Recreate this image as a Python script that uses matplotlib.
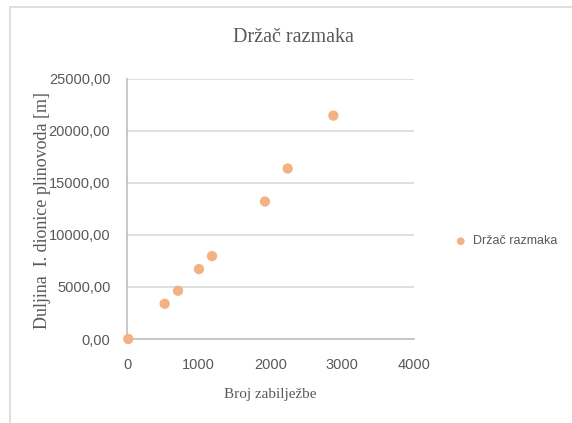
import matplotlib.pyplot as plt
from matplotlib.patches import Rectangle

# broj zabiljezbe vs duljina dionice
broj = [18, 525, 711, 1003, 1185, 1923, 2240, 2876]
duljina = [0, 3390, 4640, 6720, 7970, 13220, 16390, 21480]
x_ticks = [0, 1000, 2000, 3000, 4000]
y_ticks = [0, 5000, 10000, 15000, 20000, 25000]

serif = ['Liberation Serif', 'DejaVu Serif']
sans = ['Liberation Sans Narrow', 'Liberation Sans', 'DejaVu Sans']
tick_col = '#595959'

fig = plt.figure(figsize=(5.72, 4.23), dpi=100)
fig.patches.append(Rectangle((10 / 572, -0.1), 1.2, 1 - 7 / 423 + 0.1, transform=fig.transFigure,
                             fill=False, edgecolor='#D9D9D9', linewidth=1.2))

ax = fig.add_axes([127 / 572, 84 / 423, 287 / 572, 260 / 423])
ax.scatter(broj, duljina, s=55, color='#F4B183', edgecolors='none', label='Držač razmaka', zorder=3, clip_on=False)

ax.set_xlim(0, 4000)
ax.set_ylim(0, 25000)
ax.set_xticks(x_ticks)
ax.set_yticks(y_ticks)
ax.set_yticklabels([f'{v},00' for v in y_ticks])
ax.tick_params(length=0, pad=12, labelsize=10.5, colors=tick_col)
ax.tick_params(axis='x', pad=14)
for lab in ax.get_xticklabels() + ax.get_yticklabels():
    lab.set_family(sans)

ax.grid(axis='y', color='#D9D9D9', linewidth=1.2)
ax.set_axisbelow(True)
for s in ['top', 'right']:
    ax.spines[s].set_visible(False)
for s in ['left', 'bottom']:
    ax.spines[s].set_color('#BFBFBF')
    ax.spines[s].set_linewidth(1.2)

fig.text(293 / 572, 1 - 38 / 423, 'Držač razmaka', family=serif, fontsize=14.5, color=tick_col,
         ha='center', va='center')
fig.text(270 / 572, 1 - 394 / 423, 'Broj zabilježbe', family=serif, fontsize=11, color=tick_col,
         ha='center', va='center')
fig.text(43 / 572, 1 - 210 / 423, 'Duljina  I. dionice plinovoda [m]', family=serif, fontsize=13,
         color=tick_col, ha='center', va='center', rotation=90)

leg = ax.legend(loc='center left', bbox_to_anchor=(1.08, 0.375), frameon=False, handletextpad=0.0,
                markerscale=0.75, prop={'family': sans, 'size': 9})
for t in leg.get_texts():
    t.set_color(tick_col)

fig.savefig('out.png', dpi=100)
